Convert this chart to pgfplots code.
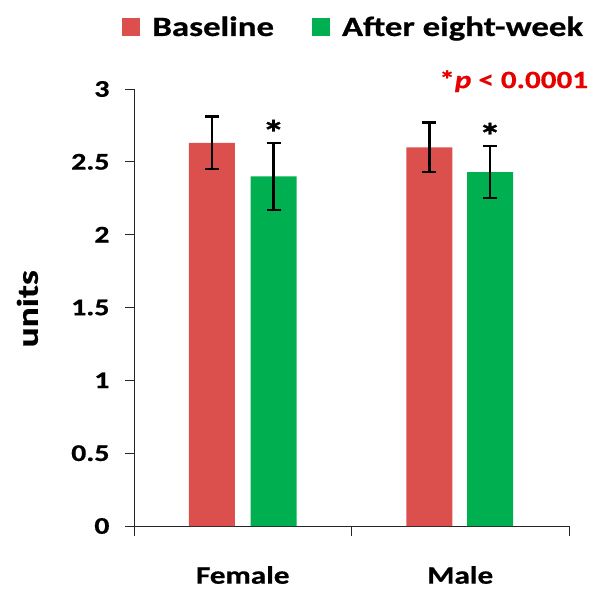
\documentclass[border=0pt]{standalone}
\usepackage{pgfplots}
\pgfplotsset{compat=1.18}
\usepackage{fontspec}
\setmainfont{Carlito}[FakeStretch=1.25, BoldFeatures={FakeBold=0.7}, BoldItalicFeatures={FakeBold=0.7}]
\definecolor{bred}{RGB}{219,80,76}
\definecolor{bgreen}{RGB}{0,176,80}
\definecolor{pred}{RGB}{230,0,0}
\begin{document}
\begin{tikzpicture}
\useasboundingbox (-134bp,-64bp) rectangle (469bp,526bp);
\begin{axis}[
  at={(0,0)}, anchor=south west,
  scale only axis, width=435bp, height=437bp,
  xmin=0, xmax=2, ymin=0, ymax=3,
  axis lines*=left,
  axis line style={black!85, line width=0.9bp},
  tick align=outside,
  xtick={0.5,1.5}, xticklabels={Female,Male},
  minor xtick={0,1,2},
  major x tick style={draw=none},
  minor x tick style={black!85, line width=0.9bp},
  minor tick length=10bp,
  major tick length=9bp,
  y tick style={black!85, line width=0.9bp},
  ytick={0,0.5,1,1.5,2,2.5,3},
  /pgf/number format/assume math mode=true,
  yticklabel style={font=\bfseries\fontsize{24}{24}\selectfont, anchor=east, xshift=-12bp},
  xticklabel style={font=\bfseries\fontsize{25}{25}\selectfont, anchor=center, yshift=-40bp},
  ylabel={units},
  ylabel style={font=\bfseries\fontsize{30}{30}\selectfont, at={(axis description cs:-0.245,0.497)}, anchor=center},
  legend columns=2,
  legend style={draw=none, fill=none, at={(rel axis cs:-0.034,1.142)}, anchor=west,
    font=\bfseries\fontsize{28}{28}\selectfont,
    /tikz/every even column/.append style={column sep=36bp}},
  legend image code/.code={\fill[#1] (0bp,-9bp) rectangle (18bp,9bp); \path (28bp,0bp);},
  clip=false,
]
\addplot[ybar, bar width=46bp, bar shift=0pt, fill=bred, draw=none,
  error bars/.cd, y dir=both, y explicit,
  error bar style={black, line width=2.4bp},
  error mark options={black, rotate=90, mark size=7bp, line width=2.4bp}]
  coordinates {(0.3586,2.63) +- (0,0.18) (1.3586,2.60) +- (0,0.17)};
\addlegendentry{Baseline}
\addplot[ybar, bar width=46bp, bar shift=0pt, fill=bgreen, draw=none,
  error bars/.cd, y dir=both, y explicit,
  error bar style={black, line width=2.4bp},
  error mark options={black, rotate=90, mark size=7bp, line width=2.4bp}]
  coordinates {(0.6414,2.40) +- (0,0.23) (1.6368,2.43) +- (0,0.18)};
\addlegendentry{After eight-week}
\node[font=\bfseries\fontsize{36}{36}\selectfont] at (axis cs:0.6414,2.70) {*};
\node[font=\bfseries\fontsize{36}{36}\selectfont] at (axis cs:1.6368,2.68) {*};
\node[font=\bfseries\fontsize{25}{25}\selectfont, text=pred, anchor=east] at (rel axis cs:1.052,1.018) {*\textit{p} < 0.0001};
\end{axis}
\end{tikzpicture}
\end{document}
